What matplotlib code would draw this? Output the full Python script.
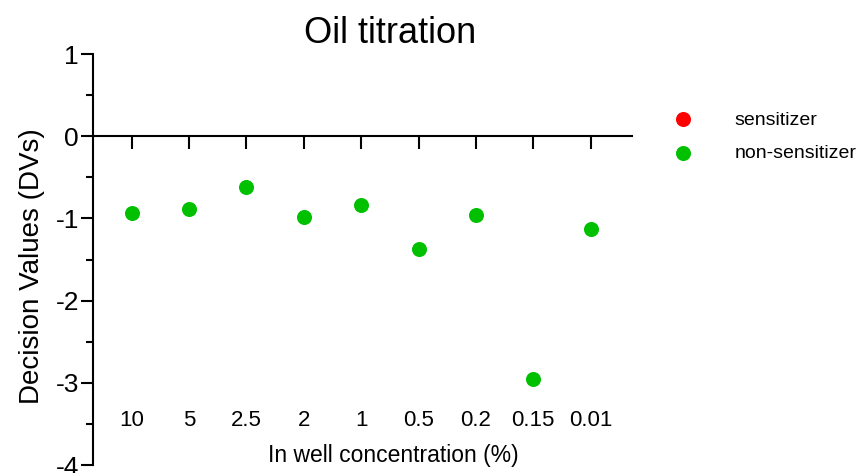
import numpy as np
import matplotlib.pyplot as plt

plt.rcParams['font.family'] = ['Liberation Sans', 'DejaVu Sans']
plt.rcParams['axes.unicode_minus'] = False

# Oil titration series: in-well concentration (%) and the decision value per well
concentrations = ['10', '5', '2.5', '2', '1', '0.5', '0.2', '0.15', '0.01']
decision_values = [-0.93, -0.88, -0.62, -0.98, -0.84, -1.37, -0.96, -2.95, -1.13]
calls = ['non-sensitizer', 'non-sensitizer', 'non-sensitizer', 'non-sensitizer',
         'non-sensitizer', 'non-sensitizer', 'non-sensitizer', 'non-sensitizer',
         'non-sensitizer']
classes = ['sensitizer', 'non-sensitizer']
class_colors = {'sensitizer': '#ff0000', 'non-sensitizer': '#00c000'}

fig = plt.figure(figsize=(8.6, 4.73), dpi=100)
ax = fig.add_axes([0.1081, 0.0169, 0.6267, 0.8689])

x = np.arange(len(concentrations))
vals = np.array(decision_values)
call_arr = np.array(calls)
for cls in classes:
    m = call_arr == cls
    ax.scatter(x[m], vals[m], s=117, color=class_colors[cls], label=cls,
               linewidths=0, zorder=3)

ax.set_xlim(-0.674, 8.72)
ax.set_ylim(-4, 1)

# x axis drawn through y = 0, labels pushed down below the data
ax.spines['bottom'].set_position(('data', 0))
ax.spines['top'].set_visible(False)
ax.spines['right'].set_visible(False)
for s in ('left', 'bottom'):
    ax.spines[s].set_linewidth(1.5)

ax.set_xticks(x)
ax.set_xticklabels(concentrations, fontsize=16)
ax.tick_params(axis='x', direction='out', length=9.4, width=1.5, pad=188)

ax.set_yticks(np.arange(-4, 2, 1))
ax.set_yticks(np.arange(-3.5, 1, 1), minor=True)
ax.tick_params(axis='y', which='major', length=8.6, width=1.5, pad=1.5, labelsize=19)
ax.tick_params(axis='y', which='minor', length=4.8, width=1.5)

ax.set_xlabel('In well concentration (%)', fontsize=16.5)
ax.xaxis.set_label_coords(0.557, 0.051)
ax.set_ylabel('Decision Values (DVs)', fontsize=20)
ax.yaxis.set_label_coords(-0.089, 0.484)

ax.set_title('Oil titration', fontsize=26, x=0.551, y=1.05, va='center', pad=0)

ax.legend(loc='upper left', bbox_to_anchor=(0.7826, 0.7655),
          bbox_transform=fig.transFigure, frameon=False, fontsize=14,
          handlelength=1, handletextpad=2.18, labelspacing=0.8,
          borderpad=0, borderaxespad=0, markerscale=1)

fig.savefig('out.png', dpi=100)
